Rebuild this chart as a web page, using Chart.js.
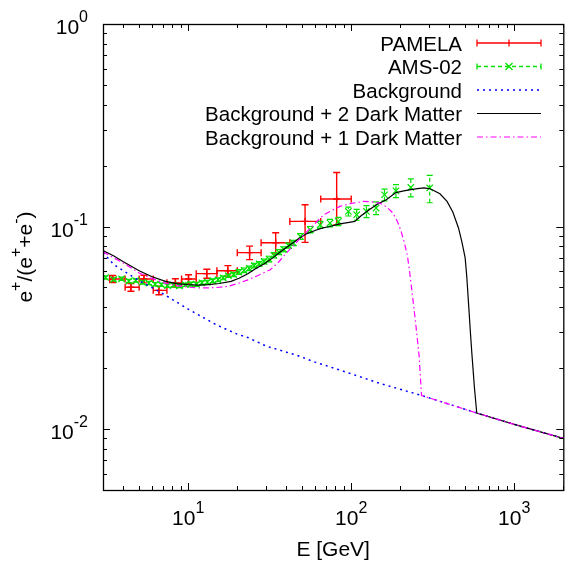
<!DOCTYPE html>
<html>
<head>
<meta charset="utf-8">
<script src="https://cdn.jsdelivr.net/npm/chart.js@4.4.1/dist/chart.umd.min.js"></script>
<style>
html, body { margin: 0; padding: 0; background: #fff; overflow: hidden; }
</style>
</head>
<body>
<canvas id="chart" width="569" height="561"></canvas>
<script>
const FONT = "'Liberation Sans', Arial, Helvetica, sans-serif";

// PAMELA: energy bins, mean energy, positron fraction and errors
const pamelaLo = [3.3, 4.1, 5.0, 6.1, 7.4, 9.1, 11.2, 15.0, 20.0, 28.0, 42.0, 65.0];
const pamelaHi = [4.1, 5.0, 6.1, 7.4, 9.1, 11.2, 15.0, 20.0, 28.0, 42.0, 65.0, 100.0];
const pamelaE = [3.44, 4.45, 5.35, 6.61, 8.34, 10.04, 13.0, 17.5, 23.8, 34.4, 52.1, 81.4];
const pamelaF = [0.0551, 0.0501, 0.0551, 0.0484, 0.0527, 0.0551, 0.0585, 0.0605, 0.0743, 0.0832, 0.106, 0.1367];
const pamelaErrUp = [0.0022, 0.0022, 0.0024, 0.0024, 0.0025, 0.0027, 0.0030, 0.0036, 0.0057, 0.0100, 0.022, 0.048];
const pamelaErrDn = [0.0022, 0.0022, 0.0024, 0.0024, 0.0025, 0.0027, 0.0030, 0.0036, 0.0057, 0.0100, 0.0225, 0.035];

// AMS-02
const amsE = [3.11, 3.49, 3.90, 4.32, 4.76, 5.24, 5.74, 6.27, 6.85, 7.47, 8.13, 8.84, 9.59, 10.38, 11.24, 12.14, 13.09, 14.14, 15.24, 16.39, 17.64, 18.99, 20.44, 21.99, 23.64, 25.38, 27.23, 29.18, 31.28, 33.53, 35.93, 38.53, 41.28, 44.17, 48.8, 56.1, 64.5, 74.1, 83.4, 96, 108, 124, 142, 160, 188, 232, 303];
const amsF = [0.0560, 0.0548, 0.0552, 0.0538, 0.0541, 0.0530, 0.0526, 0.0519, 0.0516, 0.0511, 0.0514, 0.0509, 0.0516, 0.0520, 0.0518, 0.0527, 0.0531, 0.0540, 0.0546, 0.0558, 0.0572, 0.0580, 0.0596, 0.0608, 0.0622, 0.0641, 0.0655, 0.0672, 0.0691, 0.0721, 0.0748, 0.0772, 0.0805, 0.0830, 0.0893, 0.0965, 0.102, 0.104, 0.106, 0.1187, 0.1144, 0.1187, 0.1234, 0.1435, 0.150, 0.156, 0.155];
const amsErr = [0.0010, 0.0010, 0.0010, 0.0010, 0.0010, 0.0010, 0.0010, 0.0010, 0.0010, 0.0010, 0.0010, 0.0010, 0.0010, 0.0012, 0.0012, 0.0012, 0.0012, 0.0012, 0.0012, 0.0012, 0.0012, 0.0014, 0.0016, 0.0016, 0.0016, 0.0016, 0.0016, 0.0018, 0.0022, 0.0022, 0.0022, 0.0022, 0.0022, 0.0025, 0.003, 0.0035, 0.004, 0.0045, 0.005, 0.006, 0.007, 0.008, 0.009, 0.0095, 0.011, 0.016, 0.024];

// model curves
const bgE = [3, 3.5, 4, 5, 6.6, 8, 10, 11.5, 15, 20, 23.2, 30, 46.6, 60, 89.5, 150, 270, 589, 1000, 2000];
const bgF = [0.0743, 0.0648, 0.0605, 0.0540, 0.0479, 0.0436, 0.0391, 0.0367, 0.0326, 0.0294, 0.0283, 0.0257, 0.0231, 0.0214, 0.0193, 0.0168, 0.01465, 0.0120, 0.01054, 0.0090];

const dm2E = [3, 3.5, 4, 5, 6, 7.26, 8.5, 10, 11.5, 13.3, 15.5, 18.3, 20.5, 23.2, 26, 29.3, 33, 36.8, 41, 46.6, 53, 61.7, 67, 73.9, 84.9, 95, 105, 115, 129, 145, 164, 188, 210, 232, 255, 279, 300, 314, 350, 387, 420, 455, 477, 500, 512, 524, 537, 549, 570, 589, 1000, 2000];
const dm2F = [0.076, 0.0715, 0.067, 0.0605, 0.0565, 0.0536, 0.0522, 0.0516, 0.0514, 0.0516, 0.0523, 0.0536, 0.0555, 0.0585, 0.062, 0.0655, 0.070, 0.0751, 0.080, 0.0861, 0.092, 0.0964, 0.0985, 0.100, 0.103, 0.1045, 0.106, 0.113, 0.121, 0.129, 0.1356, 0.147, 0.150, 0.152, 0.154, 0.155, 0.154, 0.152, 0.145, 0.133, 0.118, 0.0984, 0.0842, 0.070, 0.056, 0.0421, 0.031, 0.0239, 0.016, 0.0120, 0.01054, 0.0090];

const dm1E = [3, 3.5, 4, 5, 6, 7.26, 8.5, 10, 11.5, 13.3, 15, 17.5, 20, 23.2, 27, 31.9, 36, 40, 47, 56, 67.6, 76, 85.2, 100, 118, 133, 149, 165, 180, 192, 202, 212, 221, 228, 238, 249, 261, 270, 589, 1000, 2000];
const dm1F = [0.075, 0.070, 0.066, 0.059, 0.0553, 0.0525, 0.0511, 0.0502, 0.0497, 0.0498, 0.0500, 0.0506, 0.0522, 0.0545, 0.0575, 0.0612, 0.067, 0.074, 0.085, 0.098, 0.114, 0.120, 0.1257, 0.130, 0.133, 0.1325, 0.1306, 0.125, 0.1166, 0.106, 0.095, 0.083, 0.072, 0.060, 0.045, 0.0328, 0.0229, 0.01465, 0.0120, 0.01054, 0.0090];

// axes
const xMin = 3, xMax = 2000, yMin = 0.005, yMax = 1;
const xTickVals = [10, 100, 1000];
const xTickExp = ['1', '2', '3'];
const yTickVals = [0.01, 0.1, 1];
const yTickExp = ['-2', '-1', '0'];

const legendLabels = ['PAMELA', 'AMS-02', 'Background', 'Background + 2 Dark Matter', 'Background + 1 Dark Matter'];

const RED = 'rgb(255,0,0)', GREEN = 'rgb(0,225,0)', BLUE = 'rgb(0,0,255)', MAGENTA = 'rgb(255,0,255)', BLACK = '#000';

const toPts = (xs, ys) => xs.map((v, i) => ({ x: v, y: ys[i] }));

function line(ctx, x0, y0, x1, y1) {
	ctx.beginPath();
	ctx.moveTo(x0, y0);
	ctx.lineTo(x1, y1);
	ctx.stroke();
}

const errorBars = {
	id: 'errorBars',
	beforeDatasetsDraw(chart) {
		const { ctx, chartArea: a, scales: { x, y } } = chart;
		ctx.save();
		ctx.beginPath();
		ctx.rect(a.left, a.top, a.right - a.left, a.bottom - a.top);
		ctx.clip();
		// PAMELA x/y error bars with caps
		ctx.strokeStyle = RED;
		ctx.lineWidth = 1.4;
		pamelaE.forEach((e, i) => {
			const px = x.getPixelForValue(e), py = y.getPixelForValue(pamelaF[i]);
			const x0 = x.getPixelForValue(pamelaLo[i]), x1 = x.getPixelForValue(pamelaHi[i]);
			const y0 = y.getPixelForValue(pamelaF[i] - pamelaErrDn[i]);
			const y1 = y.getPixelForValue(pamelaF[i] + pamelaErrUp[i]);
			line(ctx, x0, py, x1, py);
			line(ctx, px, y0, px, y1);
			line(ctx, x0, py - 3.5, x0, py + 3.5);
			line(ctx, x1, py - 3.5, x1, py + 3.5);
			line(ctx, px - 3.5, y0, px + 3.5, y0);
			line(ctx, px - 3.5, y1, px + 3.5, y1);
		});
		// AMS-02 dashed y error bars
		ctx.strokeStyle = GREEN;
		ctx.lineWidth = 1.2;
		amsE.forEach((e, i) => {
			const px = x.getPixelForValue(e);
			const y0 = y.getPixelForValue(amsF[i] - amsErr[i]);
			const y1 = y.getPixelForValue(amsF[i] + amsErr[i]);
			ctx.setLineDash([4, 3]);
			line(ctx, px, y0, px, y1);
			ctx.setLineDash([]);
			line(ctx, px - 3, y0, px + 3, y0);
			line(ctx, px - 3, y1, px + 3, y1);
		});
		ctx.restore();
	}
};

function richWidth(ctx, parts, big, small) {
	let w = 0;
	parts.forEach(([t, sup]) => {
		ctx.font = (sup ? small : big) + 'px ' + FONT;
		w += ctx.measureText(t).width;
	});
	return w;
}

function drawRich(ctx, parts, x, y, big, small, raise) {
	parts.forEach(([t, sup]) => {
		ctx.font = (sup ? small : big) + 'px ' + FONT;
		ctx.fillText(t, x, sup ? y - raise : y);
		x += ctx.measureText(t).width;
	});
}

const frame = {
	id: 'frame',
	afterDraw(chart) {
		const { ctx, chartArea: a, scales: { x, y } } = chart;
		ctx.save();
		ctx.strokeStyle = BLACK;
		ctx.fillStyle = BLACK;
		ctx.lineWidth = 1;
		ctx.setLineDash([]);

		// inward ticks on all four sides
		for (let d = 0; d <= 3; d++) {
			for (let m = 1; m < 10; m++) {
				const v = m * Math.pow(10, d);
				if (v < xMin || v > xMax) continue;
				const px = Math.round(x.getPixelForValue(v)) + 0.5;
				const len = m === 1 ? 7 : 4;
				line(ctx, px, a.bottom, px, a.bottom - len);
				line(ctx, px, a.top, px, a.top + len);
			}
		}
		for (let d = -3; d <= 0; d++) {
			for (let m = 1; m < 10; m++) {
				const v = m * Math.pow(10, d);
				if (v < yMin || v > yMax * 1.0001) continue;
				const py = Math.round(y.getPixelForValue(v)) + 0.5;
				const len = m === 1 ? 7 : 4;
				line(ctx, a.left, py, a.left + len, py);
				line(ctx, a.right, py, a.right - len, py);
			}
		}

		// border
		ctx.lineWidth = 1.3;
		ctx.strokeRect(a.left + 0.5, a.top + 0.5, a.right - a.left, a.bottom - a.top);

		// tick labels
		ctx.textBaseline = 'alphabetic';
		ctx.textAlign = 'left';
		xTickVals.forEach((v, i) => {
			const parts = [['10', 0], [xTickExp[i], 1]];
			const w = richWidth(ctx, parts, 21, 16);
			const px = x.getPixelForValue(v);
			drawRich(ctx, parts, px - w / 2, 525, 21, 16, 12);
		});
		yTickVals.forEach((v, i) => {
			const parts = [['10', 0], [yTickExp[i], 1]];
			const w = richWidth(ctx, parts, 21, 16);
			const py = y.getPixelForValue(v);
			drawRich(ctx, parts, 88 - w, py + 10, 21, 16, 12);
		});

		// axis titles
		ctx.font = '21px ' + FONT;
		ctx.textAlign = 'center';
		ctx.fillText('E [GeV]', (a.left + a.right) / 2, 556);
		ctx.textAlign = 'left';
		const yTitle = [['e', 0], ['+', 1], ['/(e', 0], ['+', 1], ['+e', 0], ['-', 1], [')', 0]];
		const tw = richWidth(ctx, yTitle, 21, 16);
		ctx.save();
		ctx.translate(32, (a.top + a.bottom) / 2);
		ctx.rotate(-Math.PI / 2);
		drawRich(ctx, yTitle, -tw / 2, 0, 21, 16, 11);
		ctx.restore();

		// legend
		const rowY = [43, 66.5, 90, 113.5, 137];
		const tx = 462, s0 = 477, s1 = 541, sm = (s0 + s1) / 2;
		ctx.font = '20.5px ' + FONT;
		ctx.textAlign = 'right';
		legendLabels.forEach((t, i) => ctx.fillText(t, tx, rowY[i] + 7.5));
		ctx.lineWidth = 1.3;
		// PAMELA sample
		ctx.strokeStyle = RED;
		line(ctx, s0, rowY[0], s1, rowY[0]);
		[s0, sm, s1].forEach(px => line(ctx, px, rowY[0] - 3.5, px, rowY[0] + 3.5));
		// AMS-02 sample
		ctx.strokeStyle = GREEN;
		ctx.setLineDash([4, 3]);
		line(ctx, s0, rowY[1], s1, rowY[1]);
		ctx.setLineDash([]);
		[s0, s1].forEach(px => line(ctx, px, rowY[1] - 3, px, rowY[1] + 3));
		line(ctx, sm - 3.5, rowY[1] - 3.5, sm + 3.5, rowY[1] + 3.5);
		line(ctx, sm - 3.5, rowY[1] + 3.5, sm + 3.5, rowY[1] - 3.5);
		// curves
		ctx.strokeStyle = BLUE;
		ctx.lineWidth = 1.5;
		ctx.setLineDash([2, 4]);
		line(ctx, s0, rowY[2], s1, rowY[2]);
		ctx.strokeStyle = BLACK;
		ctx.lineWidth = 1.2;
		ctx.setLineDash([]);
		line(ctx, s0, rowY[3], s1, rowY[3]);
		ctx.strokeStyle = MAGENTA;
		ctx.setLineDash([6, 3, 1.5, 3]);
		line(ctx, s0, rowY[4], s1, rowY[4]);
		ctx.restore();
	}
};

function init() {
	const ctx = document.getElementById('chart').getContext('2d');
	new Chart(ctx, {
		type: 'scatter',
		data: {
			datasets: [
				{
					label: 'Background + 1 Dark Matter',
					data: toPts(dm1E, dm1F),
					showLine: true,
					borderColor: MAGENTA,
					borderWidth: 1.2,
					borderDash: [6, 3, 1.5, 3],
					pointRadius: 0,
					tension: 0
				},
				{
					label: 'Background + 2 Dark Matter',
					data: toPts(dm2E, dm2F),
					showLine: true,
					borderColor: BLACK,
					borderWidth: 1.2,
					pointRadius: 0,
					tension: 0
				},
				{
					label: 'Background',
					data: toPts(bgE, bgF),
					showLine: true,
					borderColor: BLUE,
					borderWidth: 1.5,
					borderDash: [2, 4],
					pointRadius: 0,
					tension: 0
				},
				{
					label: 'AMS-02',
					data: toPts(amsE, amsF),
					pointStyle: 'crossRot',
					pointRadius: 4.5,
					borderColor: GREEN,
					borderWidth: 1.2
				},
				{
					label: 'PAMELA',
					data: toPts(pamelaE, pamelaF),
					pointStyle: 'cross',
					pointRadius: 3.5,
					borderColor: RED,
					borderWidth: 1.4
				}
			]
		},
		options: {
			responsive: false,
			animation: false,
			events: [],
			layout: { padding: { top: 24, right: 0, left: 0, bottom: 0 } },
			plugins: { legend: { display: false }, tooltip: { enabled: false } },
			scales: {
				x: {
					type: 'logarithmic', min: xMin, max: xMax,
					grid: { display: false }, border: { display: false },
					ticks: { display: false },
					afterFit(s) { s.height = 71; }
				},
				y: {
					type: 'logarithmic', min: yMin, max: yMax,
					grid: { display: false }, border: { display: false },
					ticks: { display: false },
					afterFit(s) { s.width = 103; }
				}
			}
		},
		plugins: [errorBars, frame]
	});
}

document.addEventListener('DOMContentLoaded', init);
</script>
</body>
</html>
